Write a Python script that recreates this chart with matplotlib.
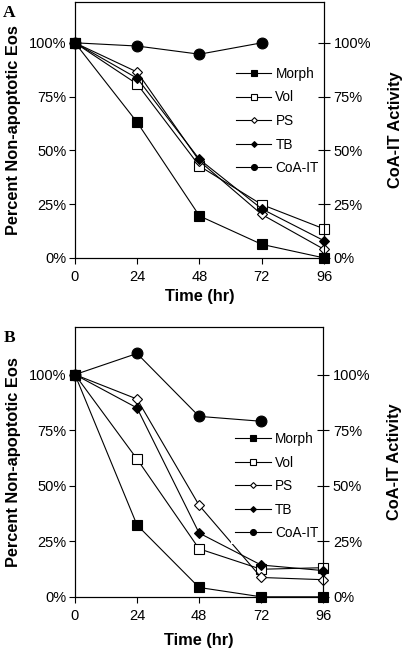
import matplotlib
matplotlib.use('Agg')
import matplotlib.pyplot as plt
from matplotlib.ticker import FuncFormatter

plt.rcParams['font.family'] = ['Liberation Sans', 'DejaVu Sans']

hours = [0, 24, 48, 72, 96]
coa_hours = [0, 24, 48, 72]

# panel A
morph_a = [100, 63, 19.5, 6.3, 0]
vol_a = [100, 80.8, 42.7, 24.8, 13.5]
ps_a = [100, 86.4, 45, 20.2, 4]
tb_a = [100, 83.5, 45.8, 22.8, 8]
coa_a = [100, 98.5, 94.7, 100]

# panel B
morph_b = [100, 32.3, 4.2, 0, 0]
vol_b = [100, 62, 21.6, 12.4, 13.1]
ps_b = [100, 89, 41.2, 8.7, 7.7]
tb_b = [100, 85, 28.7, 14.3, 11.8]
coa_b = [100, 109.5, 81.2, 79]

labels = ['Morph', 'Vol', 'PS', 'TB', 'CoA-IT']
ticks = [0, 25, 50, 75, 100]
pct = FuncFormatter(lambda v, p: '%d%%' % v)

fig = plt.figure(figsize=(4.03, 6.48), dpi=100)


def panel(rect, ytop, data, letter, ly, xpad):
    ax = fig.add_axes(rect)
    morph, vol, ps, tb, coa = data
    lw, mew = 0.8, 0.8
    kw = dict(color='k', lw=lw, mec='k', mew=mew, clip_on=False)
    hc, = ax.plot(coa_hours, coa, '-o', ms=7.8, mfc='k', zorder=2, **kw)
    hv, = ax.plot(hours, vol, '-s', ms=7.6, mfc='white', zorder=3, **kw)
    hp, = ax.plot(hours, ps, '-D', ms=5.4, mfc='white', zorder=4, **kw)
    ht, = ax.plot(hours, tb, '-D', ms=5.4, mfc='k', zorder=5, **kw)
    hm, = ax.plot(hours, morph, '-s', ms=7.6, mfc='k', zorder=6, **kw)
    ax.set_xlim(0, 96)
    ax.set_ylim(0, ytop)
    ax.set_xticks(hours)
    ax.set_yticks(ticks)
    ax.yaxis.set_major_formatter(pct)
    ax.tick_params(direction='out', length=4, width=0.8, labelsize=10.5, pad=2)
    ax.tick_params(axis='x', pad=5)
    for s in ax.spines.values():
        s.set_linewidth(0.8)
    ax.set_xlabel('Time (hr)', fontsize=11.8, fontweight='bold', labelpad=xpad)
    ax.set_ylabel('Percent Non-apoptotic Eos', fontsize=11.8, fontweight='bold', labelpad=6)
    leg = ax.legend([hm, hv, hp, ht, hc], labels, loc='upper left', bbox_to_anchor=(0.63, ly),
                    frameon=True, fancybox=False, edgecolor='none', facecolor='white', framealpha=1,
                    fontsize=9.8, markerscale=0.55, handlelength=2.6, handletextpad=0.3,
                    labelspacing=0.7, borderpad=0.3, borderaxespad=0)
    leg.set_zorder(10)
    ax2 = ax.twinx()
    ax2.set_ylim(0, ytop)
    ax2.set_yticks(ticks)
    ax2.yaxis.set_major_formatter(pct)
    ax2.tick_params(direction='inout', length=8, width=0.8, labelsize=10.5, pad=3)
    ax2.spines['right'].set_linewidth(0.8)
    ax2.set_ylabel('CoA-IT Activity', fontsize=11.8, fontweight='bold', labelpad=12)
    fig.text(0.008, rect[1] + rect[3] - 0.005, letter, fontsize=12.5, fontweight='bold',
             family='Liberation Serif', va='top', ha='left')
    return ax


panel([0.186, 0.602, 0.618, 0.395], 119, (morph_a, vol_a, ps_a, tb_a, coa_a), 'A', 0.762, 3)
panel([0.186, 0.079, 0.616, 0.417], 121.6, (morph_b, vol_b, ps_b, tb_b, coa_b), 'B', 0.625, 7)

fig.savefig('out.png', dpi=100)
